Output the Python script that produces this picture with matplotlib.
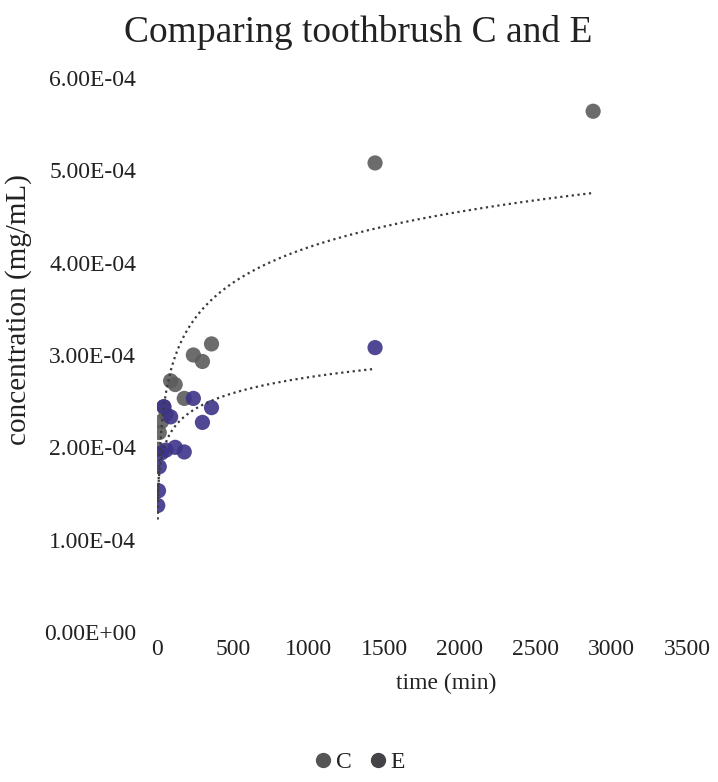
import matplotlib
matplotlib.use('Agg')

import matplotlib.pyplot as plt
import matplotlib.ticker as tkr
from matplotlib.lines import Line2D
import numpy as np

# data (time in min, concentration in mg/mL)
c_time = [5, 15, 30, 45, 60, 90, 120, 180, 240, 300, 360, 1440, 2880]
c_conc = [1.98e-4, 2.16e-4, 2.28e-4, 2.44e-4, 2.36e-4, 2.72e-4, 2.68e-4,
          2.53e-4, 3.00e-4, 2.93e-4, 3.12e-4, 5.08e-4, 5.64e-4]

e_time = [5, 10, 15, 30, 45, 60, 90, 120, 180, 240, 300, 360, 1440]
e_conc = [1.37e-4, 1.53e-4, 1.79e-4, 1.94e-4, 2.44e-4, 1.97e-4, 2.33e-4,
          2.00e-4, 1.95e-4, 2.53e-4, 2.27e-4, 2.43e-4, 3.08e-4]

x_ticks = [0, 500, 1000, 1500, 2000, 2500, 3000, 3500]
y_ticks = [0, 1e-4, 2e-4, 3e-4, 4e-4, 5e-4, 6e-4]

c_color = '#5c5c5c'
e_color = '#3d3488'

plt.rcParams['font.family'] = ['Liberation Serif', 'DejaVu Serif']

fig = plt.figure(figsize=(7.18, 7.82), dpi=100)
ax = fig.add_axes([157 / 718, 1 - 632 / 782, 530 / 718, 554 / 782])


def log_trend(t, c):
    ''' excel style logarithmic trendline '''
    t = np.asarray(t, dtype=float)
    b, a = np.polyfit(np.log(t), np.asarray(c), 1)
    tt = np.linspace(t.min(), t.max(), 500)
    return tt, a + b * np.log(tt)


ax.scatter(c_time, c_conc, s=120, color=c_color, alpha=0.9, edgecolors='none', zorder=3)
ax.scatter(e_time, e_conc, s=120, color=e_color, alpha=0.9, edgecolors='none', zorder=3)

for t, c in [(c_time, c_conc), (e_time, e_conc)]:
    tt, yy = log_trend(t, c)
    ax.plot(tt, yy, color='#3a3a3a', lw=1.6, ls=(0, (1, 1.6)), zorder=4)

ax.set_xlim(0, 3500)
ax.set_ylim(0, 6e-4)
ax.set_xticks(x_ticks)
ax.set_yticks(y_ticks)
ax.yaxis.set_major_formatter(tkr.FuncFormatter(lambda v, pos: '%.2E' % v))
ax.tick_params(length=0, labelsize=17, colors='#222222')
ax.tick_params(axis='y', pad=15)
ax.tick_params(axis='x', pad=5)
for s in ax.spines.values():
    s.set_visible(False)
ax.patch.set_alpha(0)

fig.text(358 / 718, 1 - 33 / 782, 'Comparing toothbrush C and E', ha='center', va='center',
         fontsize=27, color='#222222')
fig.text(446 / 718, 1 - 683 / 782, 'time (min)', ha='center', va='center',
         fontsize=17, color='#222222')
fig.text(19 / 718, 1 - 310 / 782, 'concentration (mg/mL)', ha='center', va='center',
         rotation=90, fontsize=21, color='#222222')

handles = [Line2D([], [], ls='none', marker='o', ms=10, color='#555555', label='C'),
           Line2D([], [], ls='none', marker='o', ms=10, color='#444448', label='E')]
fig.legend(handles=handles, loc='center', bbox_to_anchor=(358 / 718, 1 - 762 / 782),
           ncol=2, frameon=False, fontsize=17, handletextpad=0.05, columnspacing=0.6,
           handlelength=1.0, labelcolor='#222222')

fig.savefig('out.png', dpi=100)
